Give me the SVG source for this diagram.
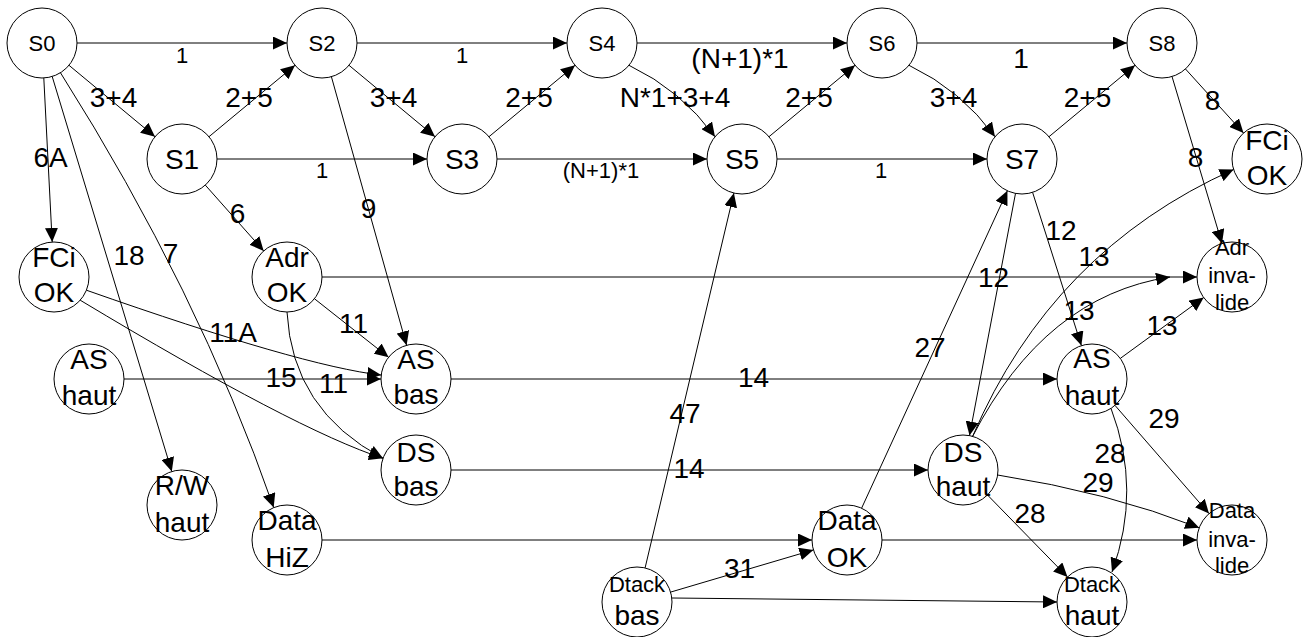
<svg xmlns="http://www.w3.org/2000/svg" width="1305" height="637" viewBox="0 0 1305 637">
  <style>
    text { font-family: "Liberation Sans", Arial, sans-serif; fill: #000; text-anchor: middle; }
    .edge { fill: none; stroke: #000; stroke-width: 1; marker-end: url(#arrow); }
    .node circle { fill: none; stroke: #000; stroke-width: 1; }
    .big { font-size: 28px; }
    .small { font-size: 22px; }
  </style>
  <defs>
    <marker id="arrow" markerUnits="userSpaceOnUse" markerWidth="14" markerHeight="13" refX="14" refY="6.5" orient="auto">
      <path d="M0,0 L14,6.5 L0,13 z" fill="#000"/>
    </marker>
  </defs>
  <rect width="1305" height="637" fill="#fff"/>

  <!-- transitions -->
  <g id="connectors">
    <path class="edge" d="M77,43 L287,43"/>
    <path class="edge" d="M69,65.3 L155,136.7"/>
    <path class="edge" d="M209,136.7 L295,65.3"/>
    <path class="edge" d="M357,43 L567,43"/>
    <path class="edge" d="M349,65.3 L435,136.7"/>
    <path class="edge" d="M217,159 L427,159"/>
    <path class="edge" d="M489,136.7 L575,65.3"/>
    <path class="edge" d="M637,43 L847,43"/>
    <path class="edge" d="M629,65.3 Q681,90 715,136.7"/>
    <path class="edge" d="M497,159 L707,159"/>
    <path class="edge" d="M769,136.7 L855,65.3"/>
    <path class="edge" d="M917,43 L1127,43"/>
    <path class="edge" d="M909,65.3 Q961,90 995,136.7"/>
    <path class="edge" d="M777,159 L987,159"/>
    <path class="edge" d="M1049,136.7 L1135,65.3"/>
    <path class="edge" d="M1185.5,69 L1243.5,133"/>
    <path class="edge" d="M1172,76.5 L1222,243.5"/>
    <path class="edge" d="M43.8,78 L52.2,242"/>
    <path class="edge" d="M52.2,76.5 L171.8,471.5"/>
    <path class="edge" d="M60.5,72.8 Q198,290 273.7,507.6"/>
    <path class="edge" d="M205.3,185.1 L263.7,250.9"/>
    <path class="edge" d="M331.4,76.7 L406.6,345.3"/>
    <path class="edge" d="M314.4,298.7 L388.6,357.3"/>
    <path class="edge" d="M287,312 Q292,410 383,458.3"/>
    <path class="edge" d="M322,277 L1197,277"/>
    <path class="edge" d="M86.4,290.2 Q302,366 381.2,375.1"/>
    <path class="edge" d="M80.2,300.2 Q296,430 383,458.3"/>
    <path class="edge" d="M124,379 L381,379"/>
    <path class="edge" d="M451,379 L1057,379"/>
    <path class="edge" d="M451,470 L928,470"/>
    <path class="edge" d="M322,540 L812,540"/>
    <path class="edge" d="M882,540 L1197,540"/>
    <path class="edge" d="M645.1,567.9 L733.9,193.1"/>
    <path class="edge" d="M861.6,508.2 L1007.4,190.8"/>
    <path class="edge" d="M1015.5,193.4 L969.5,435.6"/>
    <path class="edge" d="M1032.6,192.4 L1081.4,345.6"/>
    <path class="edge" d="M1120.3,358.4 L1203.7,297.6"/>
    <path class="edge" d="M1111,408.4 Q1142,490 1112,572"/>
    <path class="edge" d="M1115,405.4 L1209,513.6"/>
    <path class="edge" d="M997.6,475 Q1108,492 1199.2,527.8"/>
    <path class="edge" d="M987.5,495 L1067.5,577"/>
    <path class="edge" d="M670.6,592.1 L813.4,549.9"/>
    <path class="edge" d="M672,598 L1057,602"/>
    <path class="edge" d="M972.6,436.4 Q1052,251 1233.6,169.5"/>
    <path class="edge" d="M972.6,436.4 Q1045,296 1170,277"/>

    <!-- transition labels -->
    <text class="small" x="182" y="63">1</text>
    <text class="big" x="113.5" y="107">3+4</text>
    <text class="big" x="249" y="107">2+5</text>
    <text class="small" x="462" y="63">1</text>
    <text class="big" x="393.5" y="107">3+4</text>
    <text class="small" x="322" y="178">1</text>
    <text class="big" x="529" y="107">2+5</text>
    <text class="big" x="740" y="68">(N+1)*1</text>
    <text class="big" x="675" y="107">N*1+3+4</text>
    <text class="small" x="601" y="178">(N+1)*1</text>
    <text class="big" x="809" y="107">2+5</text>
    <text class="big" x="1021" y="68">1</text>
    <text class="big" x="953.5" y="107">3+4</text>
    <text class="small" x="881" y="178">1</text>
    <text class="big" x="1087.5" y="107">2+5</text>
    <text class="big" x="1212.5" y="110">8</text>
    <text class="big" x="1195.5" y="167">8</text>
    <text class="big" x="50.5" y="167">6A</text>
    <text class="big" x="129" y="265">18</text>
    <text class="big" x="170.5" y="263">7</text>
    <text class="big" x="237.5" y="223">6</text>
    <text class="big" x="368.5" y="218">9</text>
    <text class="big" x="353.5" y="333">11</text>
    <text class="big" x="333.5" y="393">11</text>
    <text class="big" x="233" y="342">11A</text>
    <text class="big" x="281" y="387">15</text>
    <text class="big" x="753.5" y="387">14</text>
    <text class="big" x="689" y="478">14</text>
    <text class="big" x="685" y="423">47</text>
    <text class="big" x="930" y="357">27</text>
    <text class="big" x="1061" y="240">12</text>
    <text class="big" x="993.5" y="287">12</text>
    <text class="big" x="1094" y="266">13</text>
    <text class="big" x="1079" y="320">13</text>
    <text class="big" x="1162" y="335">13</text>
    <text class="big" x="1164" y="428">29</text>
    <text class="big" x="1110" y="463">28</text>
    <text class="big" x="1098" y="492">29</text>
    <text class="big" x="1030" y="523">28</text>
    <text class="big" x="739.5" y="578">31</text>
  </g>

  <!-- states -->
  <g id="S0" class="node"><circle cx="42" cy="43" r="35"/><text class="small" x="42" y="51">S0</text></g>
  <g id="S2" class="node"><circle cx="322" cy="43" r="35"/><text class="small" x="322" y="51">S2</text></g>
  <g id="S4" class="node"><circle cx="602" cy="43" r="35"/><text class="small" x="602" y="51">S4</text></g>
  <g id="S6" class="node"><circle cx="882" cy="43" r="35"/><text class="small" x="882" y="51">S6</text></g>
  <g id="S8" class="node"><circle cx="1162" cy="43" r="35"/><text class="small" x="1162" y="51">S8</text></g>
  <g id="S1" class="node"><circle cx="182" cy="159" r="35"/><text class="big" x="182" y="169">S1</text></g>
  <g id="S3" class="node"><circle cx="462" cy="159" r="35"/><text class="big" x="462" y="169">S3</text></g>
  <g id="S5" class="node"><circle cx="742" cy="159" r="35"/><text class="big" x="742" y="169">S5</text></g>
  <g id="S7" class="node"><circle cx="1022" cy="159" r="35"/><text class="big" x="1022" y="169">S7</text></g>
  <g id="FCiOK-end" class="node"><circle cx="1267" cy="159" r="35"/><text class="big" x="1267" y="150">FCi</text><text class="big" x="1267" y="185">OK</text></g>

  <g id="FCiOK" class="node"><circle cx="54" cy="277" r="35"/><text class="big" x="54" y="267">FCi</text><text class="big" x="54" y="302">OK</text></g>
  <g id="AdrOK" class="node"><circle cx="287" cy="277" r="35"/><text class="big" x="287" y="267">Adr</text><text class="big" x="287" y="302">OK</text></g>
  <g id="AdrInvalide" class="node"><circle cx="1232" cy="277" r="35"/><text class="small" x="1232" y="255">Adr</text><text class="small" x="1232" y="283">inva-</text><text class="small" x="1232" y="310">lide</text></g>

  <g id="ASHaut-start" class="node"><circle cx="89" cy="379" r="35"/><text class="big" x="89" y="369">AS</text><text class="big" x="89" y="405">haut</text></g>
  <g id="ASBas" class="node"><circle cx="416" cy="379" r="35"/><text class="big" x="416" y="369">AS</text><text class="big" x="416" y="404">bas</text></g>
  <g id="ASHaut" class="node"><circle cx="1092" cy="379" r="35"/><text class="big" x="1092" y="368">AS</text><text class="big" x="1092" y="405">haut</text></g>

  <g id="DSBas" class="node"><circle cx="416" cy="470" r="35"/><text class="big" x="416" y="462">DS</text><text class="big" x="416" y="496">bas</text></g>
  <g id="DSHaut" class="node"><circle cx="963" cy="470" r="35"/><text class="big" x="963" y="462">DS</text><text class="big" x="963" y="496">haut</text></g>

  <g id="RWHaut" class="node"><circle cx="182" cy="505" r="35"/><text class="big" x="182" y="495">R/W</text><text class="big" x="182" y="532">haut</text></g>
  <g id="DataHiZ" class="node"><circle cx="287" cy="540" r="35"/><text class="big" x="287" y="530">Data</text><text class="big" x="287" y="567">HiZ</text></g>
  <g id="DataOK" class="node"><circle cx="847" cy="540" r="35"/><text class="big" x="847" y="530">Data</text><text class="big" x="847" y="567">OK</text></g>
  <g id="DataInvalide" class="node"><circle cx="1232" cy="540" r="35"/><text class="small" x="1232" y="518">Data</text><text class="small" x="1232" y="547">inva-</text><text class="small" x="1232" y="573">lide</text></g>

  <g id="DtackBas" class="node"><circle cx="637" cy="602" r="35"/><text class="small" x="637" y="592">Dtack</text><text class="big" x="637" y="625">bas</text></g>
  <g id="DtackHaut" class="node"><circle cx="1092" cy="602" r="35"/><text class="small" x="1092" y="592">Dtack</text><text class="big" x="1092" y="625">haut</text></g>
</svg>
